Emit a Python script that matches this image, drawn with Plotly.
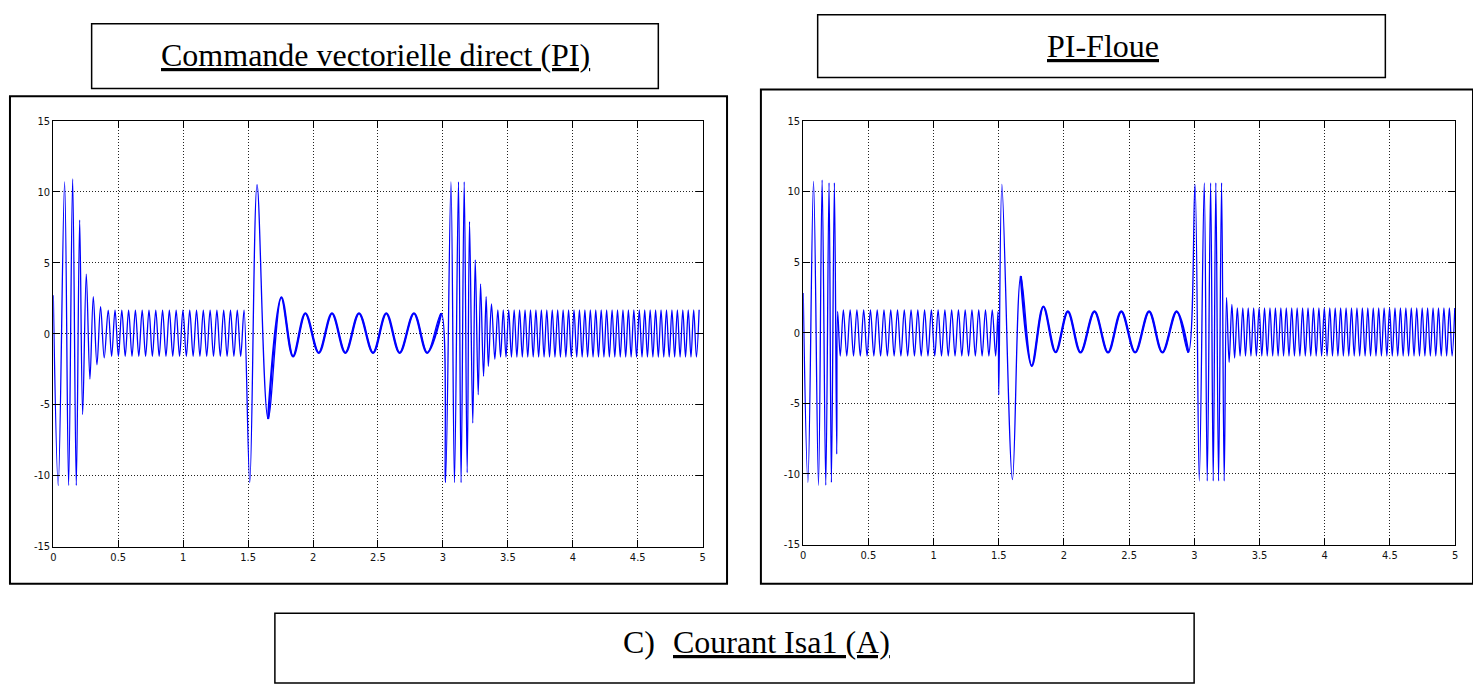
import numpy as np
import plotly.graph_objects as go

W, H = 1473, 684

# Axis ticks
time_ticks = [0, 0.5, 1, 1.5, 2, 2.5, 3, 3.5, 4, 4.5, 5]
time_tick_labels = ["0", "0.5", "1", "1.5", "2", "2.5", "3", "3.5", "4", "4.5", "5"]
current_ticks = [-15, -10, -5, 0, 5, 10, 15]
current_tick_labels = ["-15", "-10", "-5", "0", "5", "10", "15"]

# ---------------- Commande vectorielle directe (PI) : Isa1 extrema ----------------
# start-up transient (time in s, current in A)
pi_start_t = [0.0, 0.038, 0.087, 0.118, 0.149, 0.177, 0.203, 0.226, 0.254, 0.282, 0.308, 0.336, 0.364, 0.392]
pi_start_i = [2.7, -10.7, 10.7, -10.7, 10.9, -10.7, 8.0, -5.7, 4.2, -3.2, 2.6, -2.2, 1.9, -1.7]
# steady ripple bands: first crest, last crest, crest count, crest value, trough value
pi_ripple_t0 = [0.423, 3.423]
pi_ripple_t1 = [1.469, 4.973]
pi_ripple_n = [21, 38]
pi_ripple_hi = [1.65, 1.68]
pi_ripple_lo = [-1.6, -1.65]
# disturbance at t = 1.5 s
pi_dip_t = [1.513, 1.569]
pi_dip_i = [-10.5, 10.5]
# slow oscillation 1.65 s .. 3 s
pi_slow_t = [1.654, 1.756, 1.846, 1.941, 2.044, 2.146, 2.249, 2.354, 2.462, 2.564, 2.667, 2.777, 2.879, 2.987]
pi_slow_i = [-6.0, 2.55, -1.6, 1.43, -1.35, 1.43, -1.35, 1.43, -1.35, 1.43, -1.35, 1.43, -1.35, 1.43]
# transient at t = 3 s
pi_step_t = [3.02, 3.062, 3.089, 3.12, 3.14, 3.164, 3.187, 3.205, 3.23, 3.249, 3.272, 3.29, 3.313, 3.333, 3.35, 3.374, 3.40]
pi_step_i = [-10.5, 10.7, -10.5, 10.7, -10.5, 10.7, -9.8, 7.9, -6.3, 5.2, -4.3, 3.5, -3.0, 2.6, -2.3, 2.1, -1.8]

# ---------------- PI-Floue : Isa1 extrema ----------------
fz_start_t = [0.0, 0.036, 0.079, 0.117, 0.145, 0.173, 0.198, 0.216, 0.239, 0.257, 0.264, 0.284]
fz_start_i = [2.8, -10.6, 10.7, -10.8, 10.8, -10.8, 10.6, -10.6, 10.6, -8.6, 1.5, -1.65]
fz_ripple_t0 = [0.308, 3.330]
fz_ripple_t1 = [1.450, 4.998]
fz_ripple_n = [23, 41]
fz_ripple_hi = [1.62, 1.75]
fz_ripple_lo = [-1.65, -1.65]
fz_dip_t = [1.476, 1.494, 1.500, 1.524, 1.605]
fz_dip_i = [-1.65, 1.5, -4.4, 10.5, -10.4]
fz_slow_t = [1.669, 1.753, 1.842, 1.936, 2.030, 2.127, 2.234, 2.338, 2.440, 2.546, 2.653, 2.755, 2.864, 2.954]
fz_slow_i = [4.0, -2.35, 1.84, -1.38, 1.5, -1.4, 1.5, -1.4, 1.5, -1.4, 1.5, -1.4, 1.5, -1.4]
fz_step_t = [3.005, 3.038, 3.076, 3.099, 3.125, 3.145, 3.165, 3.186, 3.209, 3.229, 3.247, 3.267, 3.288, 3.309]
fz_step_i = [10.5, -10.5, 10.6, -10.5, 10.6, -10.5, 10.6, -10.5, 10.6, -10.5, 2.5, -2.1, 2.0, -1.8]


def ripple(t0, t1, n, hi, lo):
    """Alternating crest / trough points of a steady ripple band."""
    crest = np.linspace(t0, t1, n)
    t, y = [], []
    for k, c in enumerate(crest):
        t.append(c)
        y.append(hi)
        if k < n - 1:
            t.append(0.5 * (c + crest[k + 1]))
            y.append(lo)
    return t, y


def assemble(start_t, start_i, r_t0, r_t1, r_n, r_hi, r_lo, dip_t, dip_i, slow_t, slow_i, step_t, step_i):
    r1t, r1y = ripple(r_t0[0], r_t1[0], r_n[0], r_hi[0], r_lo[0])
    r2t, r2y = ripple(r_t0[1], r_t1[1], r_n[1], r_hi[1], r_lo[1])
    t = list(start_t) + r1t + list(dip_t) + list(slow_t) + list(step_t) + r2t
    y = list(start_i) + r1y + list(dip_i) + list(slow_i) + list(step_i) + r2y
    return t, y


pi_t, pi_i = assemble(pi_start_t, pi_start_i, pi_ripple_t0, pi_ripple_t1, pi_ripple_n,
                      pi_ripple_hi, pi_ripple_lo, pi_dip_t, pi_dip_i, pi_slow_t, pi_slow_i,
                      pi_step_t, pi_step_i)
fz_t, fz_i = assemble(fz_start_t, fz_start_i, fz_ripple_t0, fz_ripple_t1, fz_ripple_n,
                      fz_ripple_hi, fz_ripple_lo, fz_dip_t, fz_dip_i, fz_slow_t, fz_slow_i,
                      fz_step_t, fz_step_i)


def px(x):
    return x / W


def py(y):
    return 1 - y / H


BLUE = "#0000ff"
fig = go.Figure()

# thin full traces
fig.add_trace(go.Scatter(x=pi_t, y=pi_i, mode="lines", xaxis="x", yaxis="y",
                         line=dict(color=BLUE, width=1.3, shape="spline"), hoverinfo="skip"))
fig.add_trace(go.Scatter(x=fz_t, y=fz_i, mode="lines", xaxis="x2", yaxis="y2",
                         line=dict(color=BLUE, width=1.3, shape="spline"), hoverinfo="skip"))
# the slow oscillation carries a fine ripple, so it reads as a slightly thicker band
fig.add_trace(go.Scatter(x=pi_slow_t, y=pi_slow_i, mode="lines", xaxis="x", yaxis="y",
                         line=dict(color=BLUE, width=2.3, shape="spline"), hoverinfo="skip"))
fig.add_trace(go.Scatter(x=fz_slow_t, y=fz_slow_i, mode="lines", xaxis="x2", yaxis="y2",
                         line=dict(color=BLUE, width=2.3, shape="spline"), hoverinfo="skip"))

tick_font = dict(family="Liberation Sans Narrow, DejaVu Sans Condensed, Arial Narrow, sans-serif",
                 size=11, color="#111")
axis_style = dict(ticks="inside", ticklen=7, tickcolor="#000", tickwidth=1,
                  showline=True, linecolor="#000", linewidth=1, mirror="ticks",
                  showgrid=True, gridcolor="#222", gridwidth=1, griddash="1px,2px",
                  zeroline=False, tickfont=tick_font, fixedrange=True)

xa = dict(range=[0, 5], tickmode="array", tickvals=time_ticks, ticktext=time_tick_labels, **axis_style)
ya = dict(range=[-15, 15], tickmode="array", tickvals=current_ticks, ticktext=current_tick_labels, **axis_style)

fig.update_layout(
    width=W, height=H, margin=dict(l=0, r=0, t=0, b=0),
    paper_bgcolor="white", plot_bgcolor="white", showlegend=False,
    xaxis=dict(domain=[px(50.5), px(702.5)], anchor="y", **xa),
    yaxis=dict(domain=[py(551), py(117)], anchor="x", **ya),
    xaxis2=dict(domain=[px(803.5), px(1458)], anchor="y2", **xa),
    yaxis2=dict(domain=[py(549), py(117)], anchor="x2", **ya),
)

frame = dict(color="#000", width=2)
box = dict(color="#000", width=1.5)
shapes = [
    # panel frames
    dict(type="rect", xref="paper", yref="paper", x0=px(7), x1=px(727), y0=py(589), y1=py(92), line=frame),
    dict(type="rect", xref="paper", yref="paper", x0=px(761), x1=px(1476), y0=py(589), y1=py(85), line=frame),
    # title boxes
    dict(type="rect", xref="paper", yref="paper", x0=px(89), x1=px(658), y0=py(84), y1=py(18), line=box),
    dict(type="rect", xref="paper", yref="paper", x0=px(818), x1=px(1388), y0=py(73), y1=py(9), line=box),
    # caption box
    dict(type="rect", xref="paper", yref="paper", x0=px(273), x1=px(1196), y0=py(690), y1=py(619), line=box),
]
fig.update_layout(shapes=shapes)

title_font = dict(family="Liberation Serif, Times New Roman, serif", size=32, color="#000")
annotations = [
    dict(text="<u>Commande vectorielle direct (PI)</u>", x=px(374), y=py(50)),
    dict(text="<u>PI-Floue</u>", x=px(1104), y=py(41)),
    dict(text="C)", x=px(638.5), y=py(648)),
    dict(text="<u>Courant Isa1 (A)</u>", x=px(781.5), y=py(648)),
]
for a in annotations:
    a.update(xref="paper", yref="paper", xanchor="center", yanchor="middle",
             showarrow=False, font=title_font)
fig.update_layout(annotations=annotations)

fig.write_html("out.html")
